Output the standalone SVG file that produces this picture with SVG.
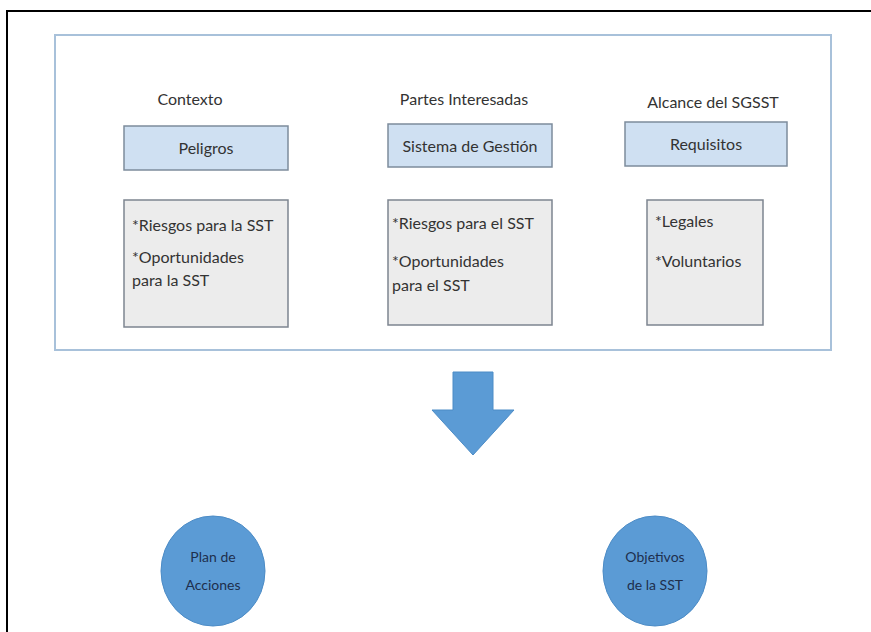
<svg xmlns="http://www.w3.org/2000/svg" width="871" height="632" viewBox="0 0 871 632">
<style>
text{font-family:Lato,"Open Sans","Liberation Sans",sans-serif;font-size:16px;fill:#333}
.c{text-anchor:middle}
.hdr{fill:#cfe0f2;stroke:#7d8c9c;stroke-width:1.5}
.lst{fill:#ececec;stroke:#7d8590;stroke-width:1.5}
.blue{fill:#5b9bd5;stroke:#4d8cc6;stroke-width:1}
.ct{fill:#1e2f4d;font-size:14px}
</style>
<rect width="871" height="632" fill="#fff"/>
<path d="M7,632 V11 H871" fill="none" stroke="#000" stroke-width="2"/>
<rect x="55" y="35" width="776" height="315" fill="#fff" stroke="#a8c1da" stroke-width="2"/>
<g id="contexto"><text class="c" x="190" y="105">Contexto</text></g>
<g id="peligros"><rect class="hdr" x="124" y="126" width="164" height="44"/><text class="c" x="206" y="154">Peligros</text></g>
<g id="riesgos-la"><rect class="lst" x="124" y="200" width="164" height="127"/>
<text x="132" y="231">*Riesgos para la SST</text><text x="132" y="263">*Oportunidades</text><text x="132" y="286">para la SST</text></g>
<g id="partes"><text class="c" x="464" y="105">Partes Interesadas</text></g>
<g id="sistema"><rect class="hdr" x="388" y="124" width="164" height="43"/><text class="c" x="470" y="152">Sistema de Gestión</text></g>
<g id="riesgos-el"><rect class="lst" x="388" y="200" width="164" height="125"/>
<text x="392" y="229">*Riesgos para el SST</text><text x="392" y="267">*Oportunidades</text><text x="392" y="291">para el SST</text></g>
<g id="alcance"><text class="c" x="713" y="108">Alcance del SGSST</text></g>
<g id="requisitos"><rect class="hdr" x="625" y="122" width="162" height="44"/><text class="c" x="706" y="150">Requisitos</text></g>
<g id="legales"><rect class="lst" x="647" y="200" width="116" height="125"/>
<text x="655" y="227">*Legales</text><text x="655" y="267">*Voluntarios</text></g>
<g id="connectors"><polygon class="blue" points="453,372 493,372 493,410 514,410 473,455 432,410 453,410"/></g>
<g id="plan"><ellipse class="blue" cx="213" cy="571" rx="52" ry="55"/><text class="c ct" x="213" y="562">Plan de</text><text class="c ct" x="213" y="590">Acciones</text></g>
<g id="objetivos"><ellipse class="blue" cx="655" cy="571" rx="52" ry="55"/><text class="c ct" x="655" y="562">Objetivos</text><text class="c ct" x="655" y="590">de la SST</text></g>
</svg>
